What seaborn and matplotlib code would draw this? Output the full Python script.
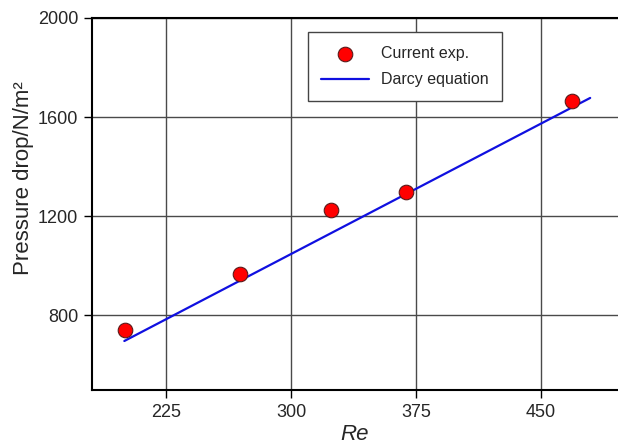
import matplotlib
matplotlib.use("Agg")
import matplotlib.pyplot as plt
import seaborn as sns
import pandas as pd

# Measured pressure drop vs Reynolds number
re_exp = [200.5, 269.5, 324.0, 369.0, 468.5]
dp_exp = [740, 966, 1224, 1297, 1665]

# Darcy equation prediction
re_darcy = [200.0, 479.5]
dp_darcy = [695, 1677]

x_ticks = [225, 300, 375, 450]
y_ticks = [800, 1200, 1600, 2000]

sns.set_style("white")
plt.rcParams["font.family"] = ["Liberation Sans", "DejaVu Sans"]

fig = plt.figure(figsize=(6.18, 4.48), dpi=100)
ax = fig.add_axes([92 / 618, 1 - 390 / 448, 1 - 92 / 618, (390 - 18) / 448])

exp_df = pd.DataFrame({"Re": re_exp, "dp": dp_exp})
darcy_df = pd.DataFrame({"Re": re_darcy, "dp": dp_darcy})

ax.set_xticks(x_ticks)
ax.set_yticks(y_ticks)
ax.grid(True, color="#4a4a4a", linewidth=1.0)
ax.set_axisbelow(True)

sns.lineplot(data=darcy_df, x="Re", y="dp", ax=ax, color="#1010e0",
             linewidth=1.6, label="Darcy equation", zorder=3)
sns.scatterplot(data=exp_df, x="Re", y="dp", ax=ax, color="#ff0000",
                edgecolor="#5a1a1a", linewidth=0.8, s=110,
                label="Current exp.", zorder=4)

ax.set_xlim(180.6, 496.2)
ax.set_ylim(497, 2000)

for side in ("left", "bottom", "top"):
    ax.spines[side].set_visible(True)
    ax.spines[side].set_color("black")
    ax.spines[side].set_linewidth(1.5)
ax.spines["right"].set_visible(False)

ax.tick_params(axis="both", direction="out", length=6, width=1.0,
               color="black", labelsize=13, left=True, bottom=True, pad=4)

ax.set_xlabel("Re", fontsize=16, style="italic", labelpad=2)
ax.set_ylabel("Pressure drop/N/m²", fontsize=16)
ax.yaxis.set_label_coords(-0.11, 0.57)

handles, labels = ax.get_legend_handles_labels()
order = [labels.index("Current exp."), labels.index("Darcy equation")]
leg = ax.legend([handles[i] for i in order], [labels[i] for i in order],
                loc="center", bbox_to_anchor=(0.595, 0.8696),
                borderaxespad=0.0,
                fontsize=11.5, frameon=True, fancybox=False,
                edgecolor="#444444", framealpha=1.0,
                borderpad=0.85, handlelength=3.0, handletextpad=0.75,
                labelspacing=0.7)
leg.get_frame().set_linewidth(1.0)

fig.savefig("out.png", dpi=100)
